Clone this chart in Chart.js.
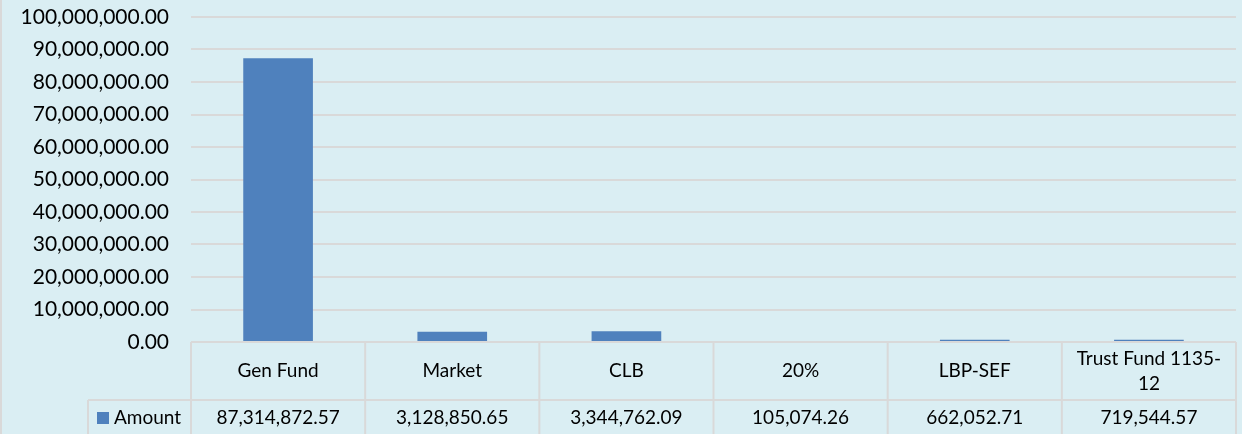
<!DOCTYPE html>
<html>
<head>
<meta charset="utf-8">
<script src="https://cdn.jsdelivr.net/npm/chart.js@4.4.1/dist/chart.umd.min.js"></script>
<style>
  html, body { margin: 0; padding: 0; background: #DAEEF3; }
  #wrap { width: 1242px; height: 434px; position: relative; }
</style>
</head>
<body>
<div id="wrap"><canvas id="fundChart" width="1242" height="434"></canvas></div>
<script>
// Chart data
const categories = ['Gen Fund', 'Market', 'CLB', '20%', 'LBP-SEF', ['Trust Fund 1135-', '12']];
const seriesName = 'Amount';
const amounts = [87314872.57, 3128850.65, 3344762.09, 105074.26, 662052.71, 719544.57];
const yTicks = [0, 10000000, 20000000, 30000000, 40000000, 50000000, 60000000, 70000000, 80000000, 90000000, 100000000];

const BAR_COLOR = '#4F81BD';
const LINE_COLOR = '#D9D9D9';
const FONT = 'Lato, "Open Sans", sans-serif';

function fmt(v) {
    return v.toLocaleString('en-US', { minimumFractionDigits: 2, maximumFractionDigits: 2 });
}

// Excel-style data table under the plot area
const dataTablePlugin = {
    id: 'dataTable',
    afterDraw(chart) {
        const ctx = chart.ctx;
        const area = chart.chartArea;
        const x = chart.scales.x;
        const top = area.bottom;
        const rowSplit = top + 58;
        const bottom = chart.height + 2;
        const legendLeft = 88;
        const colW = (area.right - area.left) / categories.length;

        ctx.save();
        ctx.strokeStyle = LINE_COLOR;
        ctx.lineWidth = 2;
        ctx.beginPath();
        // horizontal lines
        ctx.moveTo(area.left, top); ctx.lineTo(area.right, top);
        ctx.moveTo(legendLeft, rowSplit); ctx.lineTo(area.right, rowSplit);
        // vertical lines
        for (let i = 0; i <= categories.length; i++) {
            const cx = area.left + i * colW;
            ctx.moveTo(cx, top); ctx.lineTo(cx, bottom);
        }
        ctx.moveTo(legendLeft, rowSplit); ctx.lineTo(legendLeft, bottom);
        // outer frame line on the left
        ctx.moveTo(1, 0); ctx.lineTo(1, chart.height);
        ctx.stroke();

        ctx.fillStyle = '#000';
        ctx.textAlign = 'center';
        ctx.textBaseline = 'middle';
        ctx.font = '19px ' + FONT;
        categories.forEach((cat, i) => {
            const cx = x.getPixelForValue(i);
            const lines = Array.isArray(cat) ? cat : [cat];
            const mid = (top + rowSplit) / 2;
            const lh = 25;
            lines.forEach((ln, j) => {
                ctx.fillText(ln, cx, mid + (j - (lines.length - 1) / 2) * lh);
            });
            ctx.fillText(fmt(amounts[i]), cx, (rowSplit + chart.height) / 2 + 1);
        });

        // legend key
        const ly = (rowSplit + chart.height) / 2 + 1;
        ctx.fillStyle = BAR_COLOR;
        ctx.fillRect(97, ly - 6, 12, 12);
        ctx.fillStyle = '#000';
        ctx.textAlign = 'left';
        ctx.fillText(seriesName, 114, ly);
        ctx.restore();
    }
};

new Chart(document.getElementById('fundChart').getContext('2d'), {
    type: 'bar',
    data: {
        labels: categories,
        datasets: [{
            label: seriesName,
            data: amounts,
            backgroundColor: BAR_COLOR,
            borderWidth: 0,
            barPercentage: 0.4,
            categoryPercentage: 1.0
        }]
    },
    options: {
        responsive: false,
        animation: false,
        layout: { padding: { top: 17, right: 6, bottom: 92, left: 0 } },
        plugins: {
            legend: { display: false },
            tooltip: { enabled: false }
        },
        scales: {
            x: {
                display: false
            },
            y: {
                min: 0,
                max: 100000000,
                afterBuildTicks: (scale) => { scale.ticks = yTicks.map(v => ({ value: v })); },
                afterFit: (scale) => {
                    scale.width = 191;
                    scale.paddingTop = 0;
                    scale.paddingBottom = 0;
                },
                ticks: {
                    color: '#000',
                    font: { family: FONT, size: 21 },
                    padding: 22,
                    callback: (v) => fmt(v)
                },
                grid: { color: LINE_COLOR, lineWidth: 2, drawTicks: false },
                border: { display: false }
            }
        }
    },
    plugins: [dataTablePlugin]
});
</script>
</body>
</html>
